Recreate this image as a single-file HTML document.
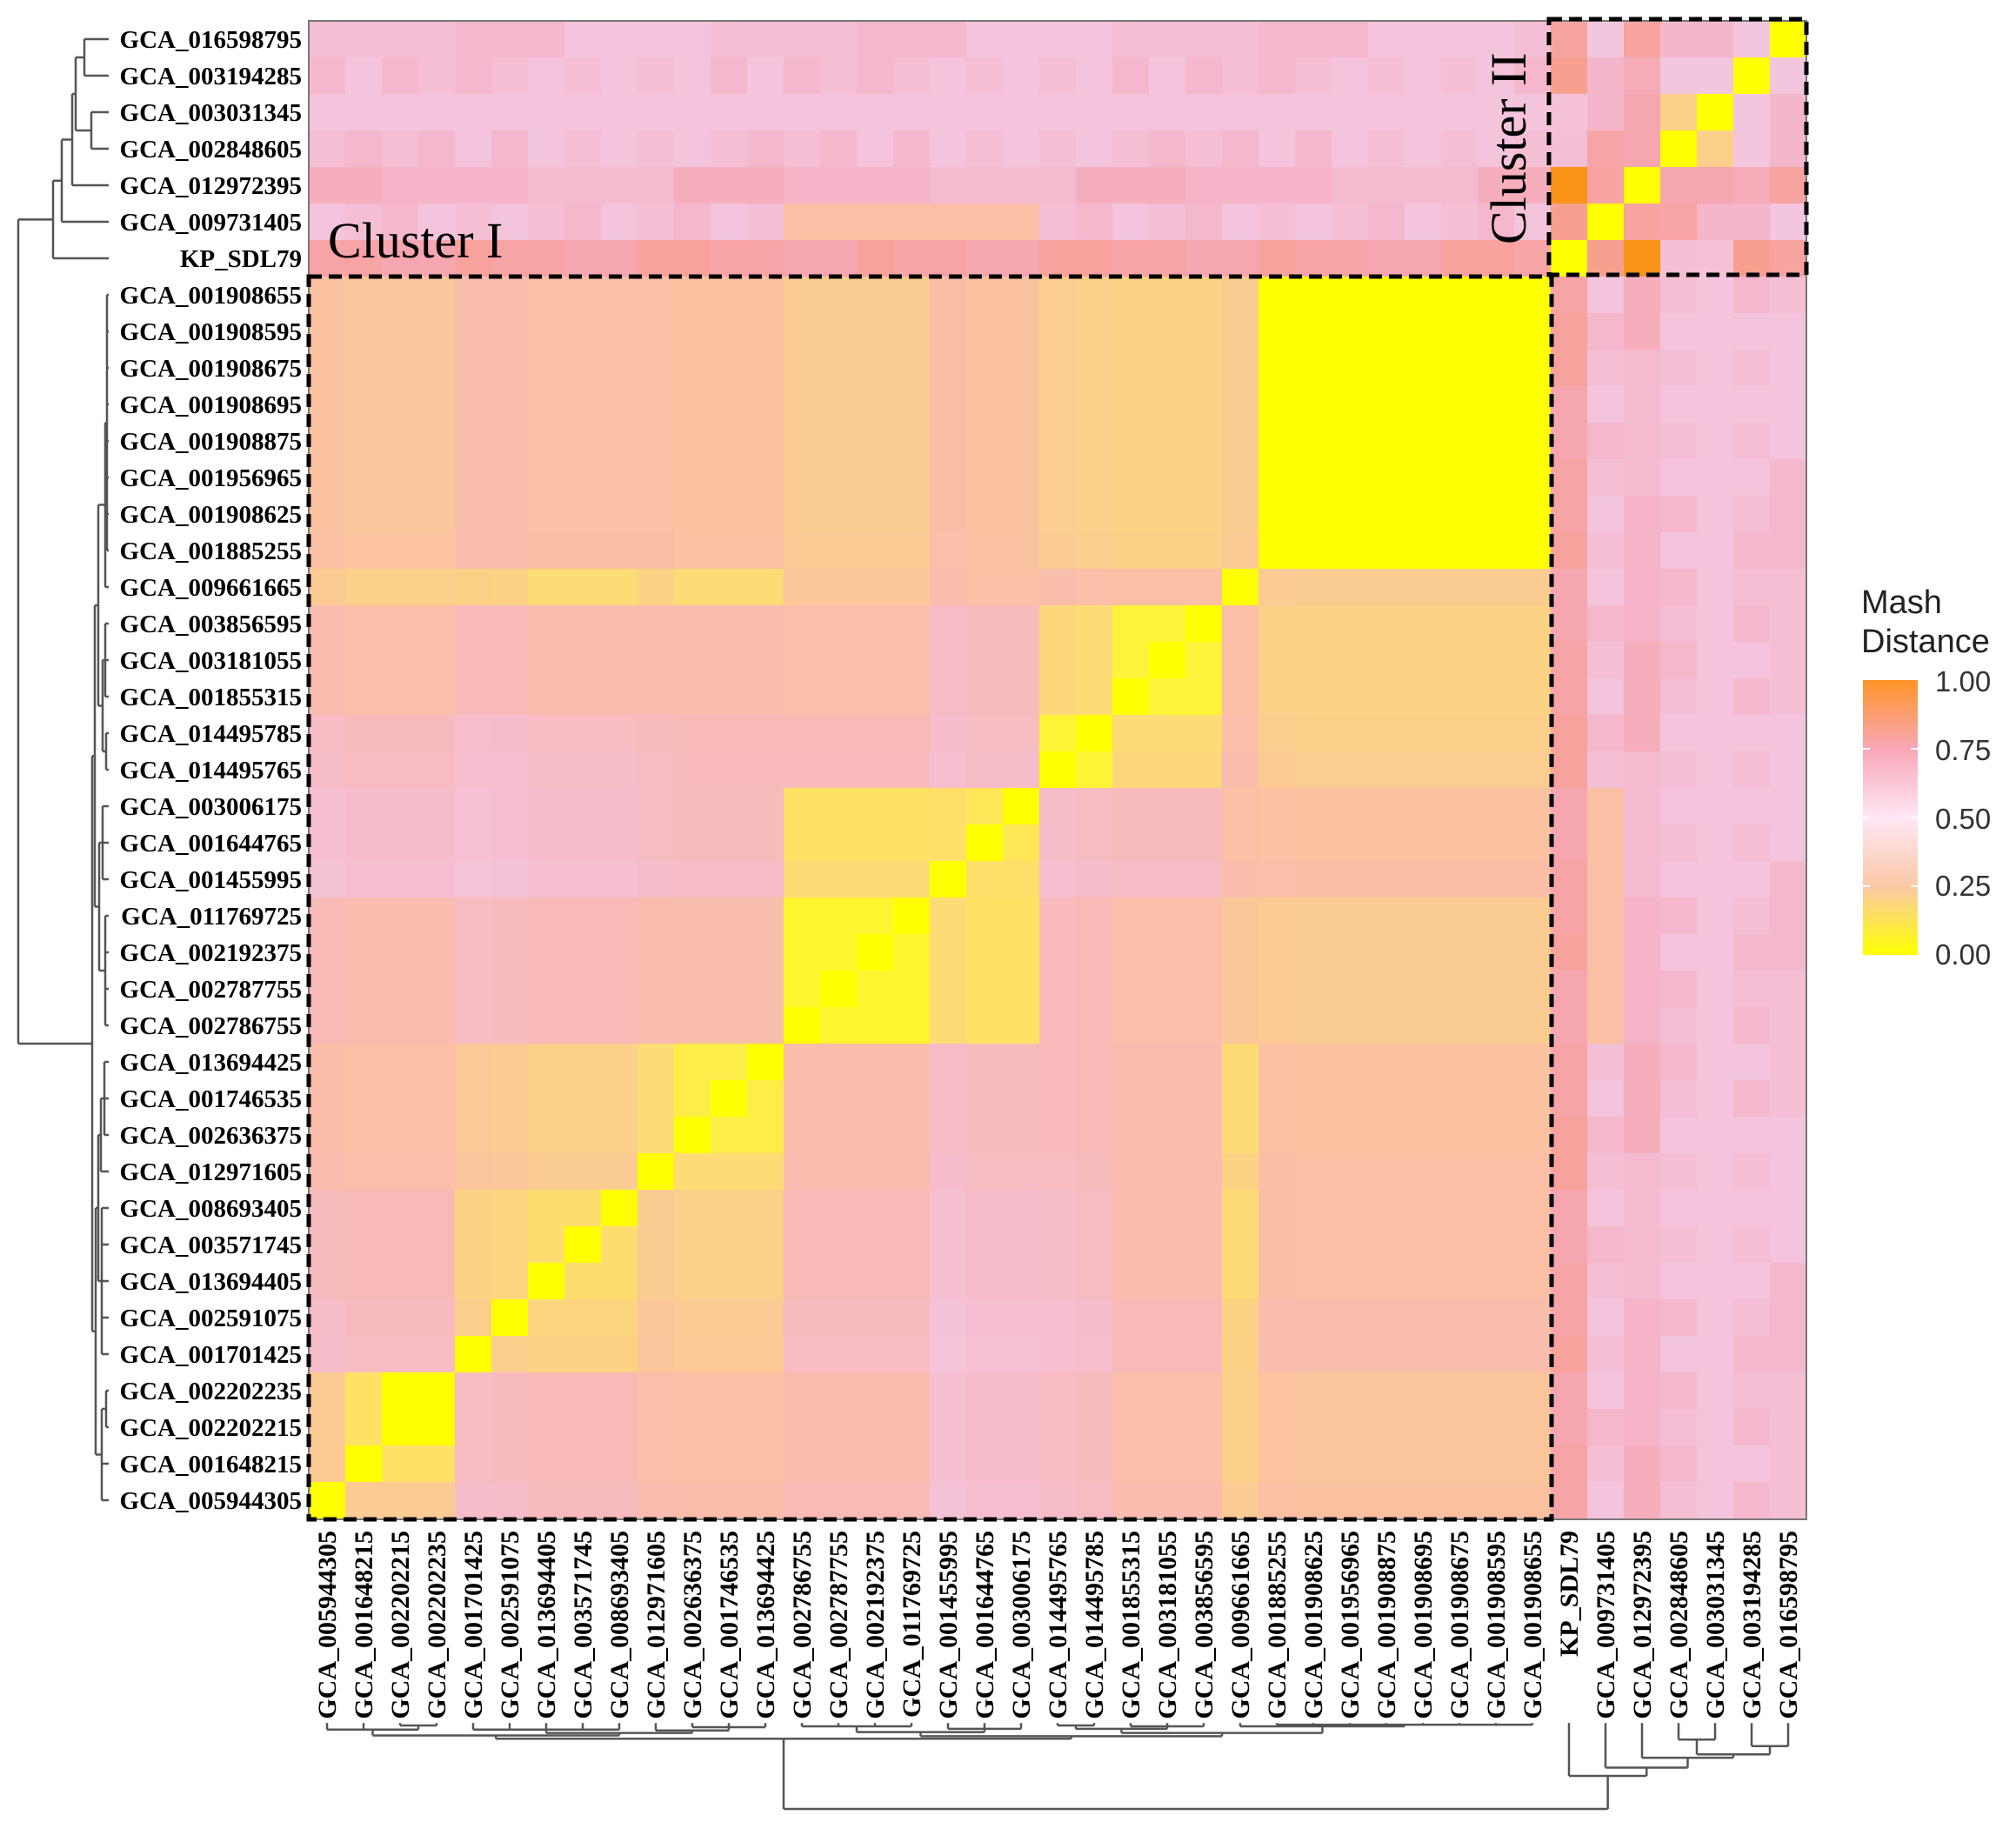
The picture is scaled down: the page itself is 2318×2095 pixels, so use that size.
<!DOCTYPE html>
<html><head><meta charset="utf-8">
<style>
html,body{margin:0;padding:0;background:#fff;}
svg{display:block;}
</style></head>
<body>
<svg id="s" width="2318" height="2095" xmlns="http://www.w3.org/2000/svg">
<defs>
<linearGradient id="lg" x1="0" y1="1" x2="0" y2="0">
<stop offset="0" stop-color="#FFFF00"/>
<stop offset="0.25" stop-color="#FBC9A8"/>
<stop offset="0.5" stop-color="#FFE6F4"/>
<stop offset="0.75" stop-color="#F8A8B8"/>
<stop offset="1" stop-color="#FF9428"/>
</linearGradient>
</defs>
<g id="cells"></g>
<g id="lines"></g>
<g id="txt" font-family="'Liberation Serif',serif"></g>
<rect x="355" y="24" width="1722" height="1723" fill="none" stroke="#777" stroke-width="2"/>
<rect x="1781" y="22" width="296" height="294" fill="none" stroke="#000" stroke-width="5" stroke-dasharray="15,8"/>
<rect x="355" y="318" width="1429" height="1429" fill="none" stroke="#000" stroke-width="5" stroke-dasharray="15,8"/>
<text x="377" y="296" font-family="'Liberation Serif',serif" font-size="58">Cluster I</text>
<text transform="translate(1754,281) rotate(-90)" font-family="'Liberation Serif',serif" font-size="58">Cluster II</text>
<g font-family="'Liberation Sans',sans-serif" fill="#222">
<text x="2140" y="705" font-size="38">Mash</text>
<text x="2140" y="750" font-size="38">Distance</text>
<rect x="2142" y="782" width="63" height="316" fill="url(#lg)"/>
<g stroke="#fff" stroke-width="2">
<line x1="2142" y1="861" x2="2150" y2="861"/><line x1="2197" y1="861" x2="2205" y2="861"/>
<line x1="2142" y1="940" x2="2150" y2="940"/><line x1="2197" y1="940" x2="2205" y2="940"/>
<line x1="2142" y1="1019" x2="2150" y2="1019"/><line x1="2197" y1="1019" x2="2205" y2="1019"/>
</g>
<g font-size="33" fill="#333">
<text x="2225" y="795">1.00</text>
<text x="2225" y="874">0.75</text>
<text x="2225" y="953">0.50</text>
<text x="2225" y="1030">0.25</text>
<text x="2225" y="1109">0.00</text>
</g>
</g>
</svg>
<script>
var L=["GCA_016598795","GCA_003194285","GCA_003031345","GCA_002848605","GCA_012972395","GCA_009731405","KP_SDL79",
"GCA_001908655","GCA_001908595","GCA_001908675","GCA_001908695","GCA_001908875","GCA_001956965","GCA_001908625","GCA_001885255",
"GCA_009661665","GCA_003856595","GCA_003181055","GCA_001855315","GCA_014495785","GCA_014495765","GCA_003006175","GCA_001644765",
"GCA_001455995","GCA_011769725","GCA_002192375","GCA_002787755","GCA_002786755","GCA_013694425","GCA_001746535","GCA_002636375",
"GCA_012971605","GCA_008693405","GCA_003571745","GCA_013694405","GCA_002591075","GCA_001701425","GCA_002202235","GCA_002202215",
"GCA_001648215","GCA_005944305"];
function grp(i){if(i<7)return'x';if(i<=14)return'a';if(i==15)return'r';if(i<=18)return'b';if(i<=20)return'c';if(i<=23)return'd';if(i<=27)return'e';if(i<=30)return'f';if(i==31)return's';if(i<=36)return'g';return'h';}
var B={};
function sb(p,q,v){B[p+q]=v;B[q+p]=v;}
var T={aa:0,ar:.22,ab:.18,ac:.2,ad:.28,ae:.22,af:.28,as:.3,ag:.3,ah:.26,
rr:0,rb:.3,rc:.32,rd:.3,re:.25,rf:.15,rs:.18,rg:.15,rh:.2,
bb:.06,bc:.15,bd:.4,be:.32,bf:.35,bs:.35,bg:.35,bh:.32,
cc:.04,cd:.42,ce:.38,cf:.38,cs:.4,cg:.42,ch:.4,
dd:.1,de:.12,df:.4,ds:.42,dg:.45,dh:.45,
ee:.05,ef:.33,es:.35,eg:.38,eh:.35,
ff:.08,fs:.15,fg:.2,fh:.3,ss:0,sg:.22,sh:.32,gg:.14,gh:.38,hh:.15};
for(var k in T)sb(k[0],k[1],T[k]);
var off=new Array(41).fill(0);off[36]=.08;off[35]=.06;off[23]=.06;off[40]=.05;off[14]=.02;off[20]=.03;
var C2=[[0,.55,.65,.65,.8,.55,.8],[.55,0,.55,.55,.72,.65,.85],[.65,.55,0,.2,.75,.65,.58],[.65,.55,.2,0,.75,.78,.6],[.8,.72,.75,.75,0,.8,1.0],[.55,.65,.65,.78,.8,0,.85],[.8,.85,.58,.6,1.0,.85,0]];
function hsh(a,b){return (a*73+b*151+a*b*7)%11;}
function d(a,b){
 if(a==b)return 0;
 if(a<7&&b<7)return C2[a][b];
 if(a<7||b<7){var c=a<7?a:b,o=a<7?b:a;
   if(c==6)return .75+(hsh(Math.min(a,b),Math.max(a,b))%3)*.03;
   var g=grp(o);
   if(c==5&&(g=='d'||g=='e'))return .3;
   return (c==4?.62:.56)+(hsh(Math.min(a,b),Math.max(a,b))%3)*.04;}
 var ga=grp(a),gb=grp(b),v=B[ga+gb];
 if(ga=='h'&&gb=='h'){var p=Math.min(a,b),q=Math.max(a,b);if(p==37&&q==38)v=0;else if(q==39)v=.12;else v=.2;}
 if(v>0)v+=(off[a]+off[b])/2;
 return v;}
var S=[[0,'#FFFF00'],[.06,'#FFF23A'],[.12,'#FDE265'],[.18,'#FCD384'],[.24,'#FBC898'],[.3,'#FABFA4'],[.38,'#F8BAB6'],[.45,'#F6BCCB'],[.55,'#F3C6DE'],[.65,'#F5B5CA'],[.75,'#F6A6B0'],[.85,'#F8A090'],[1,'#F99418']];
function hx(c){return[parseInt(c.substr(1,2),16),parseInt(c.substr(3,2),16),parseInt(c.substr(5,2),16)];}
function col(v){if(v<=0)return S[0][1];for(var i=1;i<S.length;i++){if(v<=S[i][0]){var t=(v-S[i-1][0])/(S[i][0]-S[i-1][0]),a=hx(S[i-1][1]),b=hx(S[i][1]);return'rgb('+Math.round(a[0]+(b[0]-a[0])*t)+','+Math.round(a[1]+(b[1]-a[1])*t)+','+Math.round(a[2]+(b[2]-a[2])*t)+')';}}return S[S.length-1][1];}
var h='';
for(var i=0;i<41;i++)for(var j=0;j<41;j++){var lb=40-j;h+='<rect x="'+(355+42*j)+'" y="'+(24+42*i)+'" width="43" height="43" fill="'+col(d(i,lb))+'"/>';}
document.getElementById('cells').innerHTML=h;
var t='';
for(var i=0;i<41;i++){t+='<text x="347" y="'+(24+42*i+31)+'" text-anchor="end" font-weight="bold" font-size="29">'+L[i]+'</text>';}
for(var j=0;j<41;j++){var lb=40-j,cx=355+42*j+21+10;t+='<text transform="translate('+cx+',1760) rotate(-90)" text-anchor="end" font-weight="bold" font-size="30">'+L[lb]+'</text>';}
document.getElementById('txt').innerHTML=t;
var II=[61,[71,[83,[87,[97,0,1],[105,2,3]],4],5],6];
var I=[106,[109,[113,[121,[123,7,8,9,10,11,12,13,14],15],[118,[121,16,17,18],[122,19,20]]],[114,[118,21,22,23],[121,24,25,26,27]]],[110,[113,[116,[120,28,29,30],31],[117,32,33,34,35,36]],[117,[122,37,38],39,40]]];
var R=[21,II,I];
var ln='';
function line(x1,y1,x2,y2){ln+='<line x1="'+x1+'" y1="'+y1+'" x2="'+x2+'" y2="'+y2+'"/>';}
function leafY(i){return 24+42*i+21;}
function by(hh){return 2080-(hh-21)*0.95;}
function bx0(y){var i=(y-24-21)/42;return 355+42*(40-i)+21;}
function draw(n){
 if(typeof n=='number')return[leafY(n),125];
 var hh=n[0],ps=[];
 for(var k=1;k<n.length;k++){var r=draw(n[k]);ps.push(r[0]);
   line(hh,r[0],r[1],r[0]);
   line(bx0(r[0]),by(hh),bx0(r[0]),by(r[1]));}
 var mn=Math.min.apply(null,ps),mx=Math.max.apply(null,ps);
 line(hh,mn,hh,mx);
 line(bx0(mn),by(hh),bx0(mx),by(hh));
 return[(mn+mx)/2,hh];}
draw(R);
document.getElementById('lines').innerHTML='<g stroke="#555" stroke-width="2.5" fill="none">'+ln+'</g>';
</script>
</body></html>
